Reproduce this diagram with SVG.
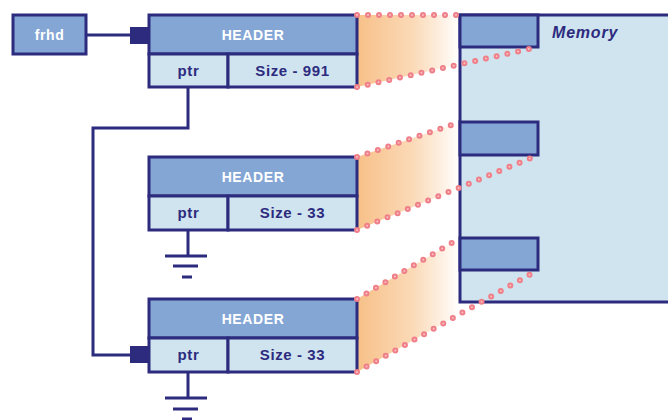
<svg xmlns="http://www.w3.org/2000/svg" width="668" height="420" viewBox="0 0 668 420">
  <defs>
    <linearGradient id="fade" gradientUnits="userSpaceOnUse" x1="357" y1="0" x2="460" y2="0">
      <stop offset="0" stop-color="#f7c088"/>
      <stop offset="0.55" stop-color="#fbdab8"/>
      <stop offset="1" stop-color="#ffffff"/>
    </linearGradient>
    <style>
      .edge { stroke: #2d2b7e; stroke-width: 3; }
      .hdr { fill: #84a6d5; stroke: #2d2b7e; stroke-width: 3; }
      .cell { fill: #cfe4ef; stroke: #2d2b7e; stroke-width: 3; }
      .wire { fill: none; stroke: #2d2b7e; stroke-width: 3; }
      .tip { fill: #2d2b7e; }
      .dots { fill: none; stroke: #ef7f88; stroke-width: 6; stroke-linecap: round; stroke-dasharray: 0 11; }
      .dotc { fill: none; stroke: #f9c0c3; stroke-width: 2; stroke-linecap: round; stroke-dasharray: 0 11; }
      .fan { fill: url(#fade); }
      .white { font-family: "Liberation Sans", Arial, sans-serif; font-weight: bold; font-size: 14px; fill: #ffffff; text-anchor: middle; letter-spacing: 0.6px; }
      .dark { font-family: "Liberation Sans", Arial, sans-serif; font-weight: bold; font-size: 15px; fill: #2d2b7e; text-anchor: middle; letter-spacing: 0.6px; }
      .mem { font-family: "Liberation Sans", Arial, sans-serif; font-weight: bold; font-style: italic; font-size: 16px; fill: #2d2b7e; letter-spacing: 0.8px; }
    </style>
  </defs>

  <!-- shaded projections from each block onto memory -->
  <g id="projections">
    <polygon class="fan" points="357,15 460,15 460,64.2 357,87"/>
    <polygon class="fan" points="357,157 460,122 460,187.6 357,230"/>
    <polygon class="fan" points="357,299 460,238 460,314 357,372"/>
  </g>

  <!-- memory region with allocated slots -->
  <g id="memory">
    <rect x="460" y="15" width="220" height="287" class="cell"/>
    <rect x="460" y="15" width="78" height="32" class="hdr"/>
    <rect x="460" y="122" width="78" height="33" class="hdr"/>
    <rect x="460" y="238" width="78" height="32" class="hdr"/>
    <text x="552" y="38" class="mem">Memory</text>
  </g>

  <!-- free-list head -->
  <g id="frhd">
    <rect x="13" y="15" width="73" height="39" class="hdr"/>
    <text x="49.5" y="40" class="white">frhd</text>
  </g>

  <!-- free blocks -->
  <g id="block1">
    <rect x="149" y="15" width="208" height="39" class="hdr"/>
    <rect x="149" y="54" width="79" height="33" class="cell"/>
    <rect x="228" y="54" width="129" height="33" class="cell"/>
    <text x="253" y="40" class="white">HEADER</text>
    <text x="188.5" y="76" class="dark">ptr</text>
    <text x="292.5" y="76" class="dark">Size - 991</text>
  </g>

  <g id="block2">
    <rect x="149" y="157" width="208" height="39" class="hdr"/>
    <rect x="149" y="196" width="79" height="34" class="cell"/>
    <rect x="228" y="196" width="129" height="34" class="cell"/>
    <text x="253" y="182" class="white">HEADER</text>
    <text x="188.5" y="218" class="dark">ptr</text>
    <text x="292.5" y="218" class="dark">Size - 33</text>
  </g>

  <g id="block3">
    <rect x="149" y="299" width="208" height="39" class="hdr"/>
    <rect x="149" y="338" width="79" height="34" class="cell"/>
    <rect x="228" y="338" width="129" height="34" class="cell"/>
    <text x="253" y="324" class="white">HEADER</text>
    <text x="188.5" y="360" class="dark">ptr</text>
    <text x="292.5" y="360" class="dark">Size - 33</text>
  </g>

  <!-- links, null terminators and projection edges -->
  <g id="connectors">
    <line x1="86" y1="35" x2="131" y2="35" class="wire"/>
    <rect x="130" y="27" width="18" height="17" class="tip"/>

    <polyline points="188,87 188,128 93,128 93,355 131,355" class="wire"/>
    <rect x="130" y="346" width="18" height="17" class="tip"/>

    <!-- ground symbols (null ptr) -->
    <line x1="188" y1="230" x2="188" y2="256" class="wire"/>
    <line x1="165" y1="256" x2="207" y2="256" class="wire"/>
    <line x1="173" y1="266" x2="198" y2="266" class="wire"/>
    <line x1="182" y1="277" x2="192" y2="277" class="wire"/>

    <line x1="188" y1="372" x2="188" y2="398" class="wire"/>
    <line x1="165" y1="398" x2="207" y2="398" class="wire"/>
    <line x1="173" y1="409" x2="198" y2="409" class="wire"/>
    <line x1="182" y1="419" x2="192" y2="419" class="wire"/>

    <!-- dotted projection edges -->
    <g class="dots">
      <line x1="357" y1="15" x2="460" y2="15"/>
      <line x1="357" y1="87" x2="538" y2="47"/>
      <line x1="357" y1="157" x2="460" y2="122"/>
      <line x1="357" y1="230" x2="538" y2="155"/>
      <line x1="357" y1="299" x2="460" y2="238"/>
      <line x1="357" y1="372" x2="538" y2="270"/>
    </g>
    <g class="dotc">
      <line x1="357" y1="15" x2="460" y2="15"/>
      <line x1="357" y1="87" x2="538" y2="47"/>
      <line x1="357" y1="157" x2="460" y2="122"/>
      <line x1="357" y1="230" x2="538" y2="155"/>
      <line x1="357" y1="299" x2="460" y2="238"/>
      <line x1="357" y1="372" x2="538" y2="270"/>
    </g>
  </g>
</svg>
